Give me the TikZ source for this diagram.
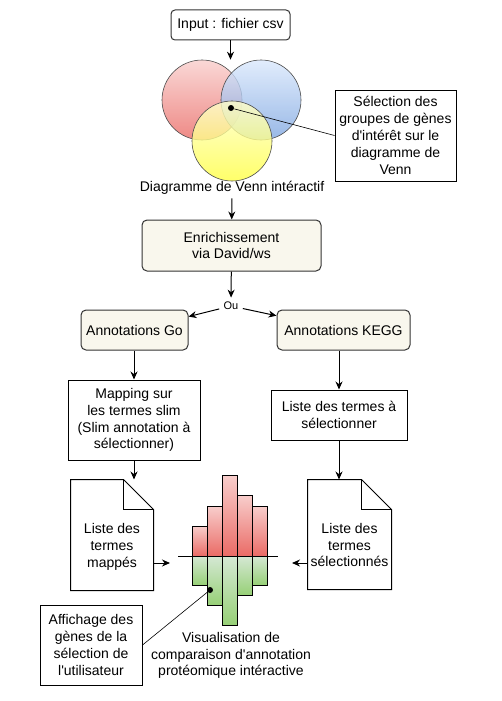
\documentclass[tikz,border=0pt]{standalone}
\usepackage{fontspec}
\setmainfont{Liberation Sans}
\usepackage{xcolor}
\usepackage{tikz}
\usetikzlibrary{arrows.meta}
\usetikzlibrary{shapes.geometric}
\definecolor{beige}{HTML}{F9F7ED}
\definecolor{redtop}{HTML}{F8CECC}
\definecolor{redbot}{HTML}{EA6B66}
\definecolor{bluetop}{HTML}{DAE8FC}
\definecolor{bluebot}{HTML}{7EA6E0}
\definecolor{yeltop}{HTML}{FFFFCC}
\definecolor{yelbot}{HTML}{FFFF44}
\definecolor{greentop}{HTML}{D5E8D4}
\definecolor{greenbot}{HTML}{97D077}
\tikzset{
    boxr/.style = {rectangle, rounded corners=5pt, draw=black!80, fill=beige, align=center, inner sep=0pt},
    boxs/.style = {rectangle, draw=black, fill=white, align=center, inner sep=0pt},
    venn/.style = {circle, draw=black!70, line width=0.6pt, fill opacity=0.8, minimum size=80pt, inner sep=0pt},
}

\begin{document}
\begin{tikzpicture}[
	x=1pt, y=-1pt,
	line width=1pt,
	font=\fontsize{14}{16.8}\selectfont
]
\tikzset{
    edgea/.style = {-{Stealth[length=8pt,width=7pt]}},
    edgel/.style = {-, line width=0.6pt},
    barr/.style = {draw=black, line width=0.7pt, top color=redtop, bottom color=redbot},
    barg/.style = {draw=black, line width=0.7pt, top color=greentop, bottom color=greenbot},
    dot/.style = {circle, fill=black, minimum size=6pt, inner sep=0pt}
}
\useasboundingbox (0,0) rectangle (501,701);
%
\node[boxr, rounded corners=4pt, fill=white, minimum width=119pt, minimum height=30pt] at (230.5,25) (input) {Input : fichier csv};
\node[venn, top color=redtop, bottom color=redbot] at (202,100) (red) {};
\node[venn, top color=bluetop, bottom color=bluebot] at (261,100) (blue) {};
\node[venn, top color=yeltop, bottom color=yelbot] at (232,141) (yellow) {};
\node[dot] at (231,108) (vsel) {};
\node at (232,188) (vennlbl) {Diagramme de Venn intéractif};
\node[boxs, minimum width=121pt, minimum height=91pt] at (395.5,135.5) (select) {Sélection des\\groupes de gènes\\d\textquotesingle intérêt sur le\\diagramme de\\Venn};
%
\node[boxr, minimum width=179pt, minimum height=51pt] at (231.5,245.5) (enrich) {Enrichissement\\via David/ws};
\node[font=\fontsize{11}{13}\selectfont, inner sep=4pt] at (231,306) (ou) {Ou};
\node[boxr, minimum width=107pt, minimum height=40pt] at (134.5,330) (go) {Annotations Go};
\node[boxr, minimum width=133pt, minimum height=40pt] at (343.5,330) (kegg) {Annotations KEGG};
\node[boxs, minimum width=132pt, minimum height=80pt] at (134,420) (mapping) {Mapping sur\\les termes slim\\(Slim annotation à\\sélectionner)};
\node[boxs, minimum width=136pt, minimum height=50pt] at (339,415) (liste) {Liste des termes à\\sélectionner};
%
\node[minimum width=82pt, minimum height=110pt] at (112,535) (mapped) {};
\node[align=center] at (112,547) (mappedtxt) {Liste des\\termes\\mappés};
\node[minimum width=83pt, minimum height=109pt] at (349.5,534.5) (selected) {};
\node[align=center] at (349.5,545) (selectedtxt) {Liste des\\termes\\sélectionnés};
\draw (mapped.south west) -- (mapped.north west) -- ([xshift=-30pt]mapped.north east) -- ([yshift=-30pt]mapped.north east) -- (mapped.south east) -- cycle;
\draw[line width=0.6pt] ([xshift=-30pt]mapped.north east) |- ([yshift=-30pt]mapped.north east);
\draw (selected.south west) -- (selected.north west) -- ([xshift=-30pt]selected.north east) -- ([yshift=-30pt]selected.north east) -- (selected.south east) -- cycle;
\draw[line width=0.6pt] ([xshift=-30pt]selected.north east) |- ([yshift=-30pt]selected.north east);
%
\draw[barr] (192,526) rectangle (207,556);
\draw[barr] (207,506) rectangle (222,556);
\draw[barr] (222,475) rectangle (237,556);
\draw[barr] (237,495) rectangle (252,556);
\draw[barr] (252,506) rectangle (267,556);
\draw[barg] (192,556) rectangle (207,585);
\draw[barg] (207,556) rectangle (222,605);
\draw[barg] (222,556) rectangle (237,625);
\draw[barg] (237,556) rectangle (252,595);
\draw[barg] (252,556) rectangle (267,585);
\draw (178,556) -- (278,556);
\coordinate (chartw) at (170,563);
\coordinate (charte) at (292,563);
\node[dot] at (210,590) (bsel) {};
\node[align=center] at (231,655.5) (chartlbl) {Visualisation de\\comparaison d\textquotesingle annotation\\protéomique intéractive};
\node[boxs, minimum width=102pt, minimum height=80pt] at (91,645) (affich) {Affichage des\\gènes de la\\sélection de\\l\textquotesingle utilisateur};
%
\draw[edgea] (input.south |- input.south) -- (input.south |- red.north);
\draw[edgel] (vsel) -- (select.west);
\draw[edgea] (vennlbl) -- (enrich);
\draw[edgea] (enrich) -- (ou);
\draw[edgea] (ou) -- (go);
\draw[edgea] (ou) -- (kegg);
\draw[edgea] (go.south -| mapping.north) -- (mapping.north);
\draw[edgea] (liste.north |- kegg.south) -- (liste.north);
\draw[edgea] (mapping.south) -- (mapping.south |- mapped.north);
\draw[edgea] (liste.south) -- (liste.south |- selected.north);
\draw[edgea] (mapped.east |- chartw) -- (chartw);
\draw[edgea] (selected.west |- charte) -- (charte);
\draw[edgel] (bsel) -- (affich.east);
\end{tikzpicture}
\end{document}
